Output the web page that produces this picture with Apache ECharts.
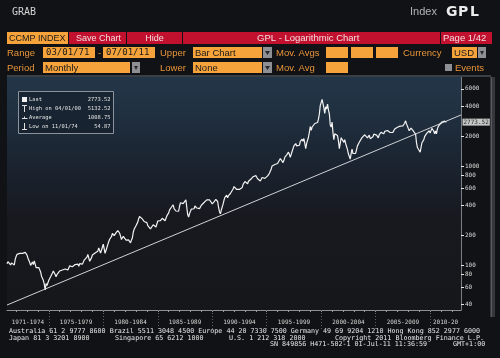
<!DOCTYPE html>
<html><head><meta charset="utf-8">
<script src="https://cdn.jsdelivr.net/npm/echarts@6/dist/echarts.min.js"></script>
<style>html,body{margin:0;padding:0;background:#111215;}#c{width:500px;height:358px;}</style>
</head><body><div id="c"></div>
<script>
// ---- data ----
const firstMonth = [1971, 3];
const monthlyCloses = [
  /*1971*/ 103,108,104,105,100,105,105,101,100,114,
  /*1972*/ 122,128,130,132,131,129,127,131,130,130,134,134,
  /*1973*/ 126,117,115,106,99,97,107,101,110,110,94,92,
  /*1974*/ 95,94,90,85,77,76,70,64,56,65,62,60,
  /*1975*/ 70,73,76,79,83,87,84,80,76,80,81,78,
  /*1976*/ 87,90,91,89,88,91,91,89,91,89,91,98,
  /*1977*/ 97,96,96,96,98,101,101,100,102,97,103,105,
  /*1978*/ 101,102,106,112,117,115,120,128,127,109,112,118,
  /*1979*/ 126,122,131,132,130,136,138,149,149,132,141,151,
  /*1980*/ 162,158,131,140,150,157,172,182,188,193,208,202,
  /*1981*/ 198,201,211,219,223,215,210,196,181,189,195,196,
  /*1982*/ 188,178,175,185,179,171,167,178,187,213,230,232,
  /*1983*/ 249,260,271,293,309,319,304,292,297,275,285,279,
  /*1984*/ 268,250,250,245,232,239,230,255,250,248,242,247,
  /*1985*/ 278,285,280,280,290,296,301,298,280,292,313,325,
  /*1986*/ 336,360,375,383,394,405,371,381,351,361,359,349,
  /*1987*/ 392,425,430,417,416,424,435,455,444,323,305,330,
  /*1988*/ 345,367,374,379,370,394,387,376,387,382,371,381,
  /*1989*/ 401,400,407,428,446,435,454,469,473,456,456,455,
  /*1990*/ 415,425,435,420,459,462,438,382,345,329,359,374,
  /*1991*/ 414,453,482,485,506,476,502,525,527,542,523,586,
  /*1992*/ 620,633,603,579,585,563,580,563,583,605,652,677,
  /*1993*/ 696,671,690,661,700,704,705,742,763,779,754,777,
  /*1994*/ 800,793,743,733,735,706,722,765,764,777,750,752,
  /*1995*/ 755,794,817,843,865,933,1001,1020,1044,1036,1059,1052,
  /*1996*/ 1060,1100,1101,1191,1243,1185,1081,1141,1227,1222,1293,1291,
  /*1997*/ 1380,1309,1222,1261,1400,1443,1594,1587,1686,1594,1601,1570,
  /*1998*/ 1619,1771,1835,1868,1779,1895,1873,1499,1694,1771,1950,2193,
  /*1999*/ 2506,2288,2461,2543,2471,2686,2638,2739,2746,2966,3336,4069,
  /*2000*/ 3940,4697,4573,3861,3401,3966,3767,4206,3673,3370,2598,2471,
  /*2001*/ 2773,2152,1840,2116,2110,2161,2027,1805,1499,1690,1931,1950,
  /*2002*/ 1934,1731,1845,1688,1616,1463,1328,1315,1172,1330,1479,1336,
  /*2003*/ 1321,1338,1341,1464,1596,1623,1735,1810,1787,1932,1960,2003,
  /*2004*/ 2066,2030,1994,1920,1987,2048,1887,1838,1897,1975,2097,2175,
  /*2005*/ 2062,2052,1999,1922,2068,2057,2185,2152,2152,2120,2233,2205,
  /*2006*/ 2306,2281,2340,2323,2179,2172,2091,2184,2258,2367,2432,2415,
  /*2007*/ 2464,2416,2422,2525,2605,2603,2546,2596,2701,2859,2661,2652,
  /*2008*/ 2390,2271,2279,2413,2523,2293,2326,2368,2092,1721,1536,1577,
  /*2009*/ 1476,1378,1529,1717,1774,1835,1979,2009,2122,2045,2145,2269,
  /*2010*/ 2147,2238,2398,2461,2257,2109,2255,2114,2369,2507,2498,2653,
  /*2011*/ 2700,2782,2781,2874,2835,2774,2773.52
];
const lastValue = 2773.52;
const trendDates = ['1971-03-01', '2012-11-01'];
const trendValues = [39.4, 3275];
const yTickValues = [40, 60, 80, 100, 200, 400, 600, 800, 1000, 2000, 4000, 6000];
const axisStart = '1971-03-01';
const axisEnd = '2012-11-01';
const periodBreaks = ['1975-01-01','1980-01-01','1985-01-01','1990-01-01','1995-01-01','2000-01-01','2005-01-01','2010-01-01'];
const periodLabels = ['1971-1974','1975-1979','1980-1984','1985-1989','1990-1994','1995-1999','2000-2004','2005-2009','2010-20'];
const statLabels = ['Last', 'High on 04/01/00', 'Average', 'Low on 11/01/74'];
const statValues = ['2773.52', '5132.52', '1008.75', '54.87'];
const footerLines = [
  [['Australia 61 2 9777 8600 Brazil 5511 3048 4500 Europe 44 20 7330 7500 Germany 49 69 9204 1210 Hong Kong 852 2977 6000', 9]],
  [['Japan 81 3 3201 8900', 9], ['Singapore 65 6212 1000', 115], ['U.S. 1 212 318 2000', 229], ['Copyright 2011 Bloomberg Finance L.P.', 335]],
  [['SN 849856 H471-502-1 01-Jul-11 11:36:59', 270], ['GMT+1:00', 453]]
];

// ---- build ----
const seriesData = monthlyCloses.map((v, i) => {
  const m = firstMonth[1] - 1 + i;
  return [Date.UTC(firstMonth[0] + Math.floor(m / 12), m % 12, 1), v];
});
const ts = s => new Date(s + 'T00:00:00Z').getTime();
const tStart = ts(axisStart), tEnd = ts(axisEnd);
const breakTs = periodBreaks.map(ts);
const labelTs = periodLabels.map((l, i) => {
  const a = i === 0 ? tStart : breakTs[i - 1];
  const b = i < breakTs.length ? breakTs[i] : tEnd;
  return (a + b) / 2;
});
const yearTicks = [];
for (let y = 1972; y <= 2012; y++) yearTicks.push(Date.UTC(y, 0, 1));

const ORANGE = '#f6a33b', LBL = '#e8953a', RED = '#c1112e', REDTXT = '#f4dde0', DARK = '#1a1a1a';
const SANS = 'Liberation Sans, Arial, sans-serif';
const MONO = 'DejaVu Sans Mono, monospace';
const G = [];
function rect(x, y, w, h, fill, z) { G.push({type:'rect', shape:{x, y, width:w, height:h}, style:{fill}, silent:true, z: z || 5}); }
function text(t, x, y, fill, font, align, z) { G.push({type:'text', x:0, y:0, style:{text:t, x, y, fill, font, align: align || 'left', verticalAlign:'middle'}, silent:true, z: z || 10}); }
function pl(pts, z) { G.push({type:'polyline', shape:{points:pts}, style:{stroke:'#e0e0e0', lineWidth:1}, silent:true, z: z || 22}); }
function dropBtn(x, y, w, h) {
  rect(x, y, w, h, '#8e9095');
  G.push({type:'polygon', shape:{points:[[x+2, y+4],[x+w-2, y+4],[x+w/2, y+h-3]]}, style:{fill:'#2a2a2a'}, silent:true, z:11});
}
// plot background
G.push({type:'rect', shape:{x:7, y:77, width:454, height:233}, style:{fill:{type:'linear', x:0, y:0, x2:0, y2:1, colorStops:[
  {offset:0, color:'#233648'}, {offset:0.16, color:'#203040'}, {offset:0.3, color:'#1c2735'}, {offset:0.47, color:'#191f29'}, {offset:0.6, color:'#17191f'}, {offset:1, color:'#15171b'}]}}, silent:true, z:-100});
rect(7, 75, 484, 2, '#3a3f46');
rect(490, 77, 5, 240, '#34373c');
rect(491, 77, 1, 240, '#55585d');
// title line
text('GRAB', 12, 12, '#d4d4d4', '10px ' + MONO);
text('Index', 410, 12, '#b4b4b4', '11px ' + SANS);
['G','P','L'].forEach((c, i) => text(c, 446 + i * 12, 12, '#ececec', 'bold 14px DejaVu Sans, sans-serif'));
// row 1
rect(7, 32, 61, 12, ORANGE); text('CCMP INDEX', 9, 38.5, DARK, '9px ' + SANS);
rect(69, 32, 57, 12, RED); text('Save Chart', 76, 38.5, REDTXT, '9px ' + SANS);
rect(127, 32, 55, 12, RED); text('Hide', 154.5, 38.5, REDTXT, '9px ' + SANS, 'center');
rect(183, 32, 257, 12, RED); text('GPL - Logarithmic Chart', 257, 38.5, REDTXT, '9.5px ' + SANS);
rect(441, 32, 51, 12, RED); text('Page 1/42', 443, 38.5, REDTXT, '9.5px ' + SANS);
// row 2
text('Range', 7, 53, LBL, '9.5px ' + SANS);
rect(43, 47, 52, 11, ORANGE); text('03/01/71', 46, 53, DARK, '9px ' + MONO);
text('-', 98, 53, LBL, '9.5px ' + SANS);
rect(103, 47, 52, 11, ORANGE); text('07/01/11', 106, 53, DARK, '9px ' + MONO);
text('Upper', 160, 53, LBL, '9.5px ' + SANS);
rect(193, 47, 69, 11, ORANGE); text('Bar Chart', 195, 53, DARK, '9.5px ' + SANS); dropBtn(263, 47, 9, 11);
text('Mov. Avgs', 276, 53, LBL, '9.5px ' + SANS);
rect(326, 47, 22, 11, ORANGE); rect(351, 47, 22, 11, ORANGE); rect(376, 47, 22, 11, ORANGE);
text('Currency', 403, 53, LBL, '9.5px ' + SANS);
rect(452, 47, 25, 11, ORANGE); text('USD', 454, 53, DARK, '9.5px ' + SANS); dropBtn(478, 47, 8, 11);
// row 3
text('Period', 7, 68, LBL, '9.5px ' + SANS);
rect(43, 62, 87, 11, ORANGE); text('Monthly', 45, 68, DARK, '9.5px ' + SANS); dropBtn(132, 62, 8, 11);
text('Lower', 160, 68, LBL, '9.5px ' + SANS);
rect(193, 62, 69, 11, ORANGE); text('None', 195, 68, DARK, '9.5px ' + SANS); dropBtn(263, 62, 9, 11);
text('Mov. Avg', 276, 68, LBL, '9.5px ' + SANS);
rect(326, 62, 22, 11, ORANGE);
rect(445, 64, 7, 7, '#8e9095');
text('Events', 455, 68, LBL, '9.5px ' + SANS);
// stats box
G.push({type:'rect', shape:{x:18.5, y:91.5, width:95, height:42}, style:{fill:'rgba(22,32,44,0.7)', stroke:'#8c939c', lineWidth:1}, silent:true, z:20});
statLabels.forEach((l, i) => {
  const cy = 100 + i * 9;
  text(l, 29, cy, '#e2e2e2', '5.4px ' + MONO, 'left', 22);
  text(statValues[i], 110.5, cy, '#e2e2e2', '5.4px ' + MONO, 'right', 22);
});
rect(22, 97, 5, 5, '#f2f2f2', 22);
pl([[22,105.5],[27,105.5]]); pl([[24.5,105.5],[24.5,112]]);
pl([[22,118.5],[27.5,118.5]]); pl([[24.5,116.5],[24.5,118.5]]);
pl([[24.5,123],[24.5,129.5]]); pl([[22,129.5],[27,129.5]]);
// footer
footerLines.forEach((line, r) => line.forEach(([t, x]) => text(t, x, 331.7 + r * 6.4, '#e8e8e8', '6.7px ' + MONO)));

const chart = echarts.init(document.getElementById('c'), null, {renderer:'canvas'});
chart.setOption({
  animation: false,
  backgroundColor: '#111215',
  grid: {left:7, right:39, top:77, bottom:48, containLabel:false, outerBoundsMode:'none'},
  xAxis: [{
    type:'value', min:tStart, max:tEnd, position:'bottom',
    axisLine:{show:true, lineStyle:{color:'#8d9095', width:1}},
    axisTick:{show:true, customValues:yearTicks, length:2, lineStyle:{color:'#9a9a9a'}},
    axisLabel:{show:true, customValues:labelTs, margin:9, color:'#d4d4d4', fontFamily:MONO, fontSize:6,
      formatter:(v) => { const i = labelTs.findIndex(t => Math.abs(t - v) < 86400000); return i >= 0 ? periodLabels[i] : ''; }},
    splitLine:{show:false}
  }, {
    type:'value', min:tStart, max:tEnd, position:'bottom', offset:0,
    axisLine:{show:false},
    axisTick:{show:true, customValues:breakTs, length:21, lineStyle:{color:'#5e6268', type:[1,2]}},
    axisLabel:{show:false}, splitLine:{show:false}
  }],
  yAxis: {
    type:'log', logBase:10, min:35.1, max:7920, position:'right',
    axisLine:{show:true, lineStyle:{color:'#7b7f85'}},
    axisTick:{show:true, customValues:yTickValues, length:3, lineStyle:{color:'#e6e6e6'}},
    axisLabel:{show:true, customValues:yTickValues, margin:4, color:'#dcdcdc', fontFamily:MONO, fontSize:6,
      formatter:(v) => String(Math.round(v))},
    splitLine:{show:false}
  },
  series: [{
    type:'line', data:seriesData, showSymbol:false, symbol:'none', z:3,
    lineStyle:{color:'#f2f2f2', width:1.2}
  }, {
    type:'line', data:trendDates.map((d, i) => [ts(d), trendValues[i]]), showSymbol:false, symbol:'none', z:2,
    lineStyle:{color:'#cfd2d6', width:1}
  }, {
    type:'scatter', data:[[tEnd, lastValue]], symbolSize:0, clip:false, z:30, silent:true,
    label:{show:true, position:'right', distance:1.5, formatter:lastValue.toFixed(2), color:'#000', backgroundColor:'#f4f4f4',
      padding:[1,1,0,1], fontFamily:MONO, fontSize:6}
  }],
  graphic: G
});
</script></body></html>
